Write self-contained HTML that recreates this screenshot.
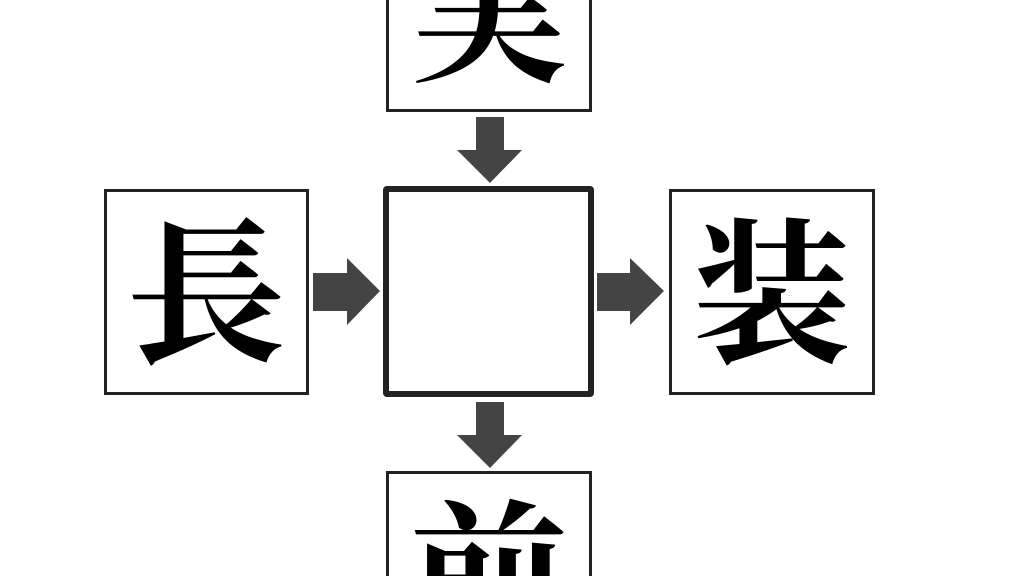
<!DOCTYPE html>
<html><head><meta charset="utf-8"><style>
html,body{margin:0;padding:0;background:#fff;width:1024px;height:576px;overflow:hidden;position:relative}
.b{position:absolute;box-sizing:border-box;border:3px solid #222;background:#fff;overflow:hidden;font-family:"Liberation Serif","Noto Serif CJK JP","Noto Serif CJK SC",serif;font-size:158px;line-height:1;color:#000;font-weight:bold}
.b span{position:absolute;left:0;right:0;text-align:center}
.c{border:6px solid #222;border-radius:4px}
svg{position:absolute;left:0;top:0}
</style></head><body>
<div class="b" style="left:386px;top:0;width:206px;height:112px;border-top:none"><span style="top:-62px">実</span></div>
<div class="b" style="left:104px;top:189px;width:205px;height:206px"><span style="top:28px">長</span></div>
<div class="b" style="left:669px;top:189px;width:206px;height:206px"><span style="top:28px">装</span></div>
<div class="b" style="left:386px;top:471px;width:206px;height:105px;border-bottom:none"><span style="top:28px">前</span></div>
<div class="b c" style="left:383px;top:186px;width:211px;height:211px"></div>
<svg width="1024" height="576">
<g fill="#444">
<polygon points="476,117 504,117 504,150 522,150 490,183 457,150 476,150"/>
<polygon points="476,402 504,402 504,435 522,435 490,468 457,435 476,435"/>
<polygon points="313,273 347,273 347,258 380,291 347,325 347,311 313,311"/>
<polygon points="597,273 630,273 630,258 664,291 630,325 630,311 597,311"/>
</g>
</svg>
</body></html>
